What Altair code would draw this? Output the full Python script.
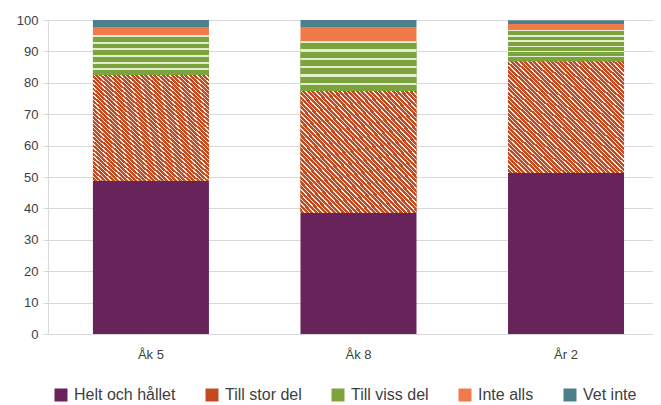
import altair as alt
import pandas as pd

grades = ["Åk 5", "Åk 8", "År 2"]
series = ["Helt och hållet", "Till stor del", "Till viss del", "Inte alls", "Vet inte"]
helt = [48.8, 38.5, 51.3]
stor = [33.7, 38.9, 35.6]
viss = [12.7, 15.9, 9.9]
inte = [2.6, 4.5, 1.9]
vet = [2.2, 2.2, 1.2]
y_ticks = [0, 10, 20, 30, 40, 50, 60, 70, 80, 90, 100]
colors = ["#68245A", "#C24A1E", "#7CA33C", "#F07A4A", "#4B7F8A"]

values = [helt, stor, viss, inte, vet]
rows = []
for si, (s, vals) in enumerate(zip(series, values)):
    for g, v in zip(grades, vals):
        rows.append({"grade": g, "series": s, "idx": si, "value": v})
df = pd.DataFrame(rows)


def stripes(base, light, n, frac, x1, y1, x2, y2):
    stops = []
    for i in range(n):
        a = i / n
        b = (i + frac) / n
        c = (i + 1) / n
        stops += [
            alt.GradientStop(offset=a, color=light),
            alt.GradientStop(offset=b, color=light),
            alt.GradientStop(offset=b, color=base),
            alt.GradientStop(offset=c, color=base),
        ]
    return alt.LinearGradient(gradient="linear", stops=stops, x1=x1, y1=y1, x2=x2, y2=y2)


grad_stor = stripes(colors[1], "#F6E9E2", 52, 0.32, 0, 1, 1, 0)
grad_viss = stripes(colors[2], "#E2EDD2", 6, 0.28, 0, 0, 0, 1)

font = "Liberation Sans"

xscale = alt.Scale(paddingInner=0.441, paddingOuter=0.178, align=0.608)
yscale = alt.Scale(domain=[0, 100], nice=False)

base = alt.Chart(df).transform_stack(
    stack="value",
    groupby=["grade"],
    sort=[alt.SortField("idx", order="ascending")],
    as_=["y0", "y1"],
)

xenc = alt.X(
    "grade:N",
    sort=grades,
    scale=xscale,
    title=None,
    axis=alt.Axis(
        labelAngle=0,
        labelFont=font,
        labelFontSize=13,
        labelColor="#404040",
        labelPadding=14,
        ticks=False,
        domainColor="#D9D9D9",
        domainWidth=1,
    ),
)
yenc = alt.Y(
    "y0:Q",
    scale=yscale,
    title=None,
    axis=alt.Axis(
        values=y_ticks,
        tickCount=len(y_ticks) + 1,
        labelOverlap=False,
        labelFont=font,
        labelFontSize=13,
        labelColor="#404040",
        labelPadding=5,
        tickSize=5,
        tickColor="#D9D9D9",
        domainColor="#D9D9D9",
        gridColor="#D9D9D9",
        gridWidth=1,
    ),
)

bars = base.mark_bar(strokeWidth=0).encode(
    x=xenc,
    y=yenc,
    y2="y1:Q",
    color=alt.Color(
        "series:N",
        scale=alt.Scale(domain=series, range=colors),
        legend=alt.Legend(
            title=None,
            orient="none",
            legendX=5,
            legendY=367,
            direction="horizontal",
            columns=5,
            symbolType="square",
            symbolSize=169,
            symbolStrokeWidth=0,
            symbolOpacity=1,
            labelFont=font,
            labelFontSize=16,
            labelColor="#404040",
            labelOffset=5,
            columnPadding=28,
        ),
    ),
)

over_stor = base.transform_filter(alt.datum.series == "Till stor del").mark_bar(
    fill=grad_stor, strokeWidth=0
).encode(
    x=alt.X("grade:N", sort=grades, scale=xscale, axis=None),
    y=alt.Y("y0:Q", scale=yscale, axis=None),
    y2="y1:Q",
)

over_viss = base.transform_filter(alt.datum.series == "Till viss del").mark_bar(
    fill=grad_viss, strokeWidth=0
).encode(
    x=alt.X("grade:N", sort=grades, scale=xscale, axis=None),
    y=alt.Y("y0:Q", scale=yscale, axis=None),
    y2="y1:Q",
)

chart = (
    alt.layer(bars, over_stor, over_viss)
    .resolve_axis(x="independent", y="independent")
    .properties(
        width=605,
        height=314,
        autosize=alt.AutoSizeParams(type="none"),
        padding={"left": 40, "top": 12, "right": 0, "bottom": 69},
        background="white",
    )
    .configure_view(stroke=None)
)

chart.save("out.html", embed_options={"renderer": "svg", "actions": False})
